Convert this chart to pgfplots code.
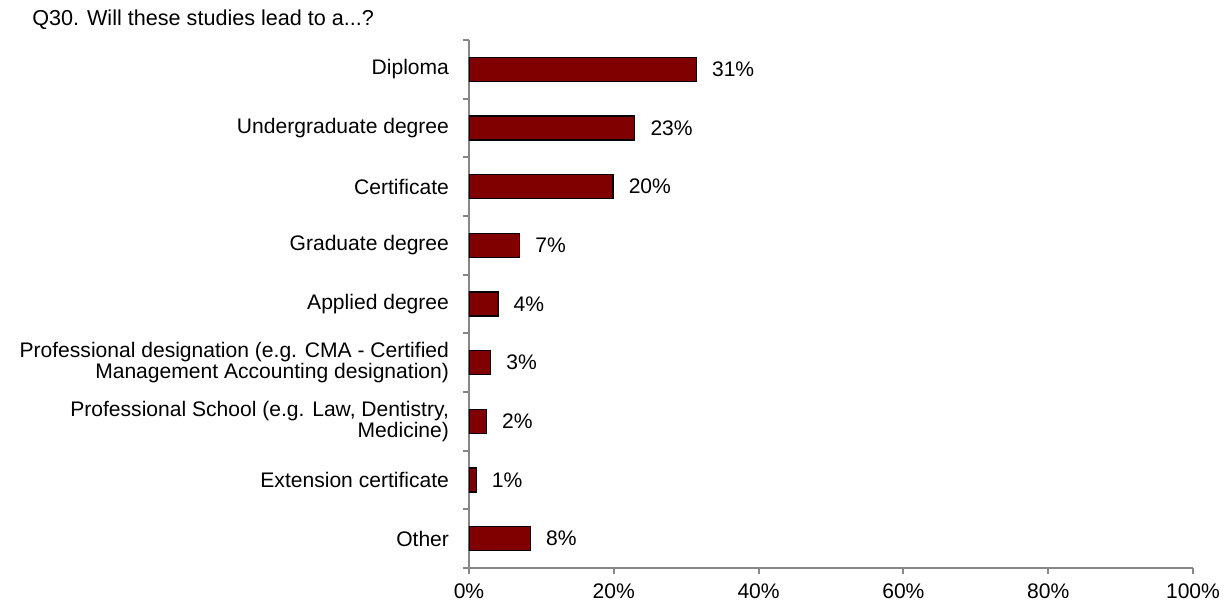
\documentclass[border=0pt]{standalone}
\usepackage{fontspec}
\setmainfont{Liberation Sans}
\usepackage{pgfplots}
\pgfplotsset{compat=1.18}
\definecolor{barred}{HTML}{800000}
\definecolor{axgray}{HTML}{878787}

\begin{document}
\begin{tikzpicture}
% canvas: 1232 x 608 px at 0.75pt per px; axis box 469..1193 x 40..568
\path[use as bounding box] (-351.75pt,-30pt) rectangle (572.25pt,426pt);
\begin{axis}[
    scale only axis,
    width=543pt, height=396pt,
    xbar,
    xmin=0, xmax=100,
    ymin=-0.5, ymax=8.5,
    bar width=0.41,
    axis x line*=bottom,
    axis y line*=left,
    axis line style={axgray, line width=1.4pt, -},
    every tick/.style={axgray, line width=1.4pt},
    tick align=outside,
    major tick length=4.5pt,
    xtick={0,20,40,60,80,100},
    xticklabels={0\%,20\%,40\%,60\%,80\%,100\%},
    ytick={0,...,8},
    yticklabels={Other, Extension certificate,
        {Professional School (e.g. Law, Dentistry,\\Medicine)},
        {Professional designation (e.g. CMA - Certified\\Management Accounting designation)},
        Applied degree, Graduate degree, Certificate,
        Undergraduate degree, Diploma},
    every major y tick/.append style={draw=none},
    minor ytick={-0.5,0.5,...,8.5},
    minor tick length=4.5pt,
    every minor tick/.style={axgray, line width=1.4pt},
    tick label style={font=\fontsize{15.8}{15.4}\selectfont, text=black},
    yticklabel style={align=right, xshift=-7pt},
    xticklabel style={yshift=-4pt},
    nodes near coords={\pgfplotspointmeta},
    point meta=explicit symbolic,
    nodes near coords style={font=\fontsize{15.8}{15}\selectfont, text=black, anchor=west, xshift=8pt},
]
\addplot[fill=barred, draw=black, line width=0.9pt] coordinates {
(8.5,0) [8\%]
(1.0,1) [1\%]
(2.4,2) [2\%]
(3.0,3) [3\%]
(4.0,4) [4\%]
(7.0,5) [7\%]
(19.9,6) [20\%]
(22.9,7) [23\%]
(31.4,8) [31\%]
};
\end{axis}
\node[anchor=base west, font=\fontsize{16.2}{18}\selectfont, inner sep=0pt] at (-327.75pt,406.5pt) {Q30. Will these studies lead to a...?};
\end{tikzpicture}
\end{document}
